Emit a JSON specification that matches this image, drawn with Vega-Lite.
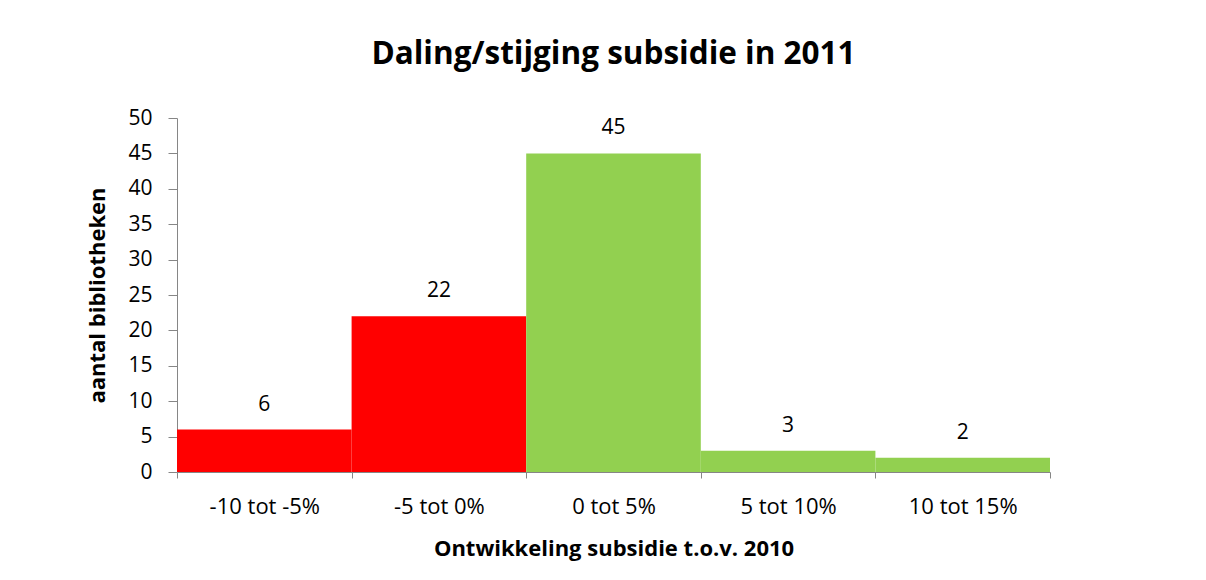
{
  "$schema": "https://vega.github.io/schema/vega-lite/v6.json",
  "width": 873,
  "height": 354,
  "autosize": {"type": "none"},
  "padding": {"left": 177, "top": 118, "right": 156, "bottom": 108},
  "background": "white",
  "title": {
    "text": "Daling/stijging subsidie in 2011",
    "font": "Open Sans",
    "fontSize": 31.5,
    "fontWeight": "bold",
    "color": "#000000",
    "anchor": "middle",
    "baseline": "alphabetic",
    "offset": 12
  },
  "data": {
    "values": [
      {"cat": "-10 tot -5%", "n": 6, "kind": "daling"},
      {"cat": "-5 tot 0%", "n": 22, "kind": "daling"},
      {"cat": "0 tot 5%", "n": 45, "kind": "stijging"},
      {"cat": "5 tot 10%", "n": 3, "kind": "stijging"},
      {"cat": "10 tot 15%", "n": 2, "kind": "stijging"}
    ]
  },
  "encoding": {
    "x": {
      "field": "cat",
      "type": "nominal",
      "sort": null,
      "scale": {"paddingInner": 0, "paddingOuter": 0},
      "axis": {
        "title": "Ontwikkeling subsidie t.o.v. 2010",
        "titleFont": "Open Sans",
        "titleFontSize": 22,
        "titleFontWeight": "bold",
        "titleColor": "#000000",
        "titleBaseline": "middle",
        "titleY": 76,
        "labelAngle": 0,
        "labelFont": "Open Sans",
        "labelFontSize": 22,
        "labelColor": "#000000",
        "labelPadding": 18,
        "tickBand": "extent",
        "tickSize": 6,
        "tickColor": "#868686",
        "domainColor": "#868686",
        "grid": false
      }
    },
    "y": {
      "field": "n",
      "type": "quantitative",
      "scale": {"domain": [0, 50], "nice": false},
      "axis": {
        "title": "aantal bibliotheken",
        "titleFont": "Open Sans",
        "titleFontSize": 22,
        "titleFontWeight": "bold",
        "titleColor": "#000000",
        "titleBaseline": "middle",
        "titleX": -80,
        "values": [0, 5, 10, 15, 20, 25, 30, 35, 40, 45, 50],
        "labelFont": "Open Sans",
        "labelFontSize": 21,
        "labelColor": "#000000",
        "labelPadding": 16,
        "tickSize": 9,
        "tickColor": "#868686",
        "domainColor": "#868686",
        "grid": false
      }
    }
  },
  "layer": [
    {
      "mark": {"type": "bar"},
      "encoding": {
        "color": {
          "field": "kind",
          "type": "nominal",
          "scale": {"domain": ["daling", "stijging"], "range": ["#FF0000", "#92D050"]},
          "legend": null
        }
      }
    },
    {
      "mark": {"type": "text", "font": "Open Sans", "fontSize": 21, "color": "#000000", "baseline": "alphabetic", "dy": -19},
      "encoding": {"text": {"field": "n", "type": "quantitative"}}
    }
  ],
  "config": {"view": {"stroke": null}}
}
